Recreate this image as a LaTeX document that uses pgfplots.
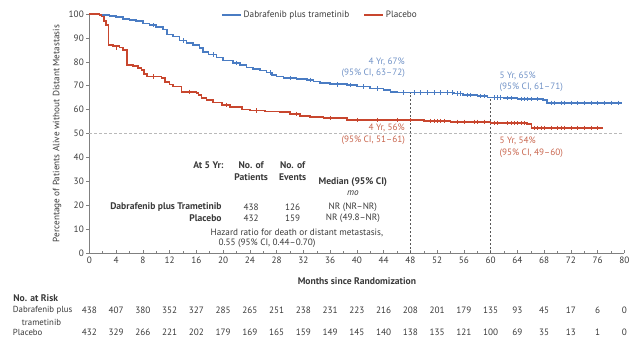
\documentclass[border=0pt]{standalone}
\usepackage{fontspec}
\setmainfont{PT Sans}
\usepackage{pgfplots}
\pgfplotsset{compat=1.18}
\definecolor{bl}{HTML}{4A7CC3}
\definecolor{rd}{HTML}{C8462E}
\definecolor{blt}{HTML}{6F91C6}
\definecolor{rdt}{HTML}{C8644C}
\definecolor{txt}{HTML}{3A3A3A}
\definecolor{axc}{HTML}{808080}
\newcommand{\fs}{\fontsize{9.2}{11}\selectfont}
\newcommand{\fb}{\fontsize{9.6}{11}\selectfont\bfseries}
\begin{document}
\begin{tikzpicture}
\begin{axis}[
  scale only axis, width=535pt, height=239pt,
  xmin=0, xmax=80, ymin=0, ymax=100,
  axis lines=left, axis line style={-, axc, line width=0.6pt},
  xtick={0,4,...,80}, minor xtick={2,6,...,78},
  ytick={0,10,...,100},
  tick align=inside,
  major tick length=3pt, minor tick length=2pt,
  tick style={axc, line width=0.5pt},
  y tick style={xshift=-3pt},
  yticklabel style={xshift=-2pt},
  ticklabel style={font=\fs, text=txt},
  /pgf/number format/assume math mode=true,
  clip=false,
  legend style={at={(0.431,0.996)}, anchor=center, draw=none, fill=none,
    font=\fs, text=txt, legend columns=2,
    /tikz/every even column/.append style={column sep=12pt}},
  legend image code/.code={\draw[#1] (0pt,0pt) -- (19pt,0pt);},
]
% reference lines
\addplot[forget plot, gray!55, dash pattern=on 3pt off 2pt, line width=0.5pt] coordinates {(0,50) (80,50)};
\addplot[forget plot, txt!85, dash pattern=on 2pt off 2pt, line width=0.5pt] coordinates {(48,0) (48,67.1)};
\addplot[forget plot, txt!85, dash pattern=on 2pt off 2pt, line width=0.5pt] coordinates {(60,0) (60,65.1)};

\addplot[const plot, bl, line width=1.6pt] coordinates {
(0,100) (1.5,99.6) (3,99.2) (4,98.7) (5,97.9) (6,97.5) (7,97.0) (8,96.0) (9,95.3) (10,94.6)
(11,93.6) (11.6,91.5) (12.5,90.6) (13.5,89) (14.5,87.8) (15.5,87) (16.5,85.8) (17,84) (17.8,83)
(19,81.8) (20,80.6) (21.5,79.6) (22.5,78.6) (23.5,77.6) (24.5,76.9) (25.5,76.3) (26.5,75.6)
(27.3,74.5) (28,73.8) (29,73.2) (31,72.9) (32.5,72.5) (33.5,71.8) (34.5,71.1) (36,70.6)
(38.5,70.3) (40,69.6) (42,68.9) (44,68.2) (45,67.5) (46,67.1) (54.5,66.8) (55.9,66.1)
(58,65.6) (59.5,65.1) (62,64.8) (64,64.4) (67.8,64.0) (68.4,62.9) (79.6,62.9)};
\addlegendentry{Dabrafenib plus trametinib}

\addplot[const plot, rd, line width=1.6pt] coordinates {
(0,100) (1.5,99.5) (1.85,98.9) (2.2,97) (2.5,95.4) (2.85,87) (3.5,86.5) (4.5,86) (5.0,85)
(5.6,78.7) (6.5,78.3) (7.3,77.5) (7.8,76.5) (8.2,75) (8.6,73.8) (10.8,73.3) (11.3,71.5)
(12,70.5) (12.5,69.6) (13.8,67.5) (16,67) (16.3,66) (16.8,64.8) (17.5,64) (18.5,63)
(19.8,62) (21,61) (22.8,60) (24,59.7) (26.3,59.3) (28.5,59.1) (30,58.3) (31.5,57.3)
(33,57) (35,56.4) (38.5,55.6) (49.4,55.6) (50,55.2) (54,54.9) (60,54.5) (62,54.3)
(65.4,54) (66.1,52.4) (76.8,52.4)};
\addlegendentry{Placebo}

% censoring marks
\addplot[forget plot, only marks, mark=|, mark size=2.2pt, bl, mark options={line width=0.5pt}] coordinates {
(9.5,95.3) (14,89) (18.5,83) (22,79.6) (27,75.6) (30,73.2) (33,72.5) (37,70.6) (39,70.3)
(41,69.6) (43,68.9) (47,67.1) (48.5,67.1) (49.5,67.1) (50.5,67.1) (51.5,67.1) (52.5,67.1)
(53.5,67.1) (54.2,67.1) (55,66.8) (55.5,66.8) (56.5,66.1) (57,66.1) (58.5,65.6) (59,65.6)
(60.5,65.1) (61,65.1) (61.5,65.1) (62.5,64.8) (63,64.8) (64.5,64.4) (65,64.4) (65.5,64.4)
(66,64.4) (67,64.4) (69,62.9) (69.5,62.9) (70.5,62.9) (71,62.9) (72,62.9) (73,62.9)
(74,62.9) (75,62.9) (76,62.9) (77,62.9) (78,62.9) (79,62.9)};
\addplot[forget plot, only marks, mark=|, mark size=2.2pt, rd, mark options={line width=0.5pt}] coordinates {
(4,86) (9.5,73.8) (15,67.5) (20.5,62) (25,59.7) (31,58.3) (36,56.4) (40,55.6) (43,55.6)
(46,55.6) (48,55.6) (51,55.2) (51.5,55.2) (52,55.2) (52.5,55.2) (53,55.2) (55,54.9)
(56,54.9) (57.5,54.9) (58,54.9) (59,54.9) (60.5,54.5) (61,54.5) (62.5,54.3) (63,54.3)
(63.5,54.3) (64,54.3) (64.5,54.3) (65,54.3) (66.5,52.4) (67,52.4) (67.5,52.4) (68,52.4)
(69,52.4) (70,52.4) (70.5,52.4) (71,52.4) (72,52.4) (73,52.4) (74,52.4) (75,52.4) (76,52.4)};

% at-risk numbers
\addplot[forget plot, draw=none, mark=none, nodes near coords, point meta=explicit symbolic,
  nodes near coords style={anchor=center, font=\fs, text=txt}] coordinates {
(0,-23.85)[438] (4,-23.85)[407] (8,-23.85)[380] (12,-23.85)[352] (16,-23.85)[327]
(20,-23.85)[285] (24,-23.85)[265] (28,-23.85)[251] (32,-23.85)[238] (36,-23.85)[231]
(40,-23.85)[223] (44,-23.85)[216] (48,-23.85)[208] (52,-23.85)[201] (56,-23.85)[179]
(60,-23.85)[135] (64,-23.85)[93] (68,-23.85)[45] (72,-23.85)[17] (76,-23.85)[6] (80,-23.85)[0]};
\addplot[forget plot, draw=none, mark=none, nodes near coords, point meta=explicit symbolic,
  nodes near coords style={anchor=center, font=\fs, text=txt}] coordinates {
(0,-33.1)[432] (4,-33.1)[329] (8,-33.1)[266] (12,-33.1)[221] (16,-33.1)[202]
(20,-33.1)[179] (24,-33.1)[169] (28,-33.1)[165] (32,-33.1)[159] (36,-33.1)[149]
(40,-33.1)[145] (44,-33.1)[140] (48,-33.1)[138] (52,-33.1)[135] (56,-33.1)[121]
(60,-33.1)[100] (64,-33.1)[69] (68,-33.1)[35] (72,-33.1)[13] (76,-33.1)[1] (80,-33.1)[0]};

% labels
\node[rotate=90, font=\fs, text=txt] at (axis cs:-4.83,50) {Percentage of Patients Alive without Distant Metastasis};
\node[font=\fb, text=txt] at (axis cs:40,-11.7) {Months since Randomization};
\node[font=\fb, text=txt, anchor=west] at (axis cs:-11.87,-18.8) {No. at Risk};
\node[font=\fontsize{8.8}{10}\selectfont, text=txt, anchor=west] at (axis cs:-11.95,-23.85) {Dabrafenib plus};
\node[font=\fontsize{8.8}{10}\selectfont, text=txt, anchor=west] at (axis cs:-10.6,-28.9) {trametinib};
\node[font=\fontsize{8.8}{10}\selectfont, text=txt, anchor=west] at (axis cs:-11.95,-33.1) {Placebo};

% annotations
\node[font=\fs, text=blt, anchor=east] at (axis cs:47.7,79.9) {4 Yr, 67\%};
\node[font=\fs, text=blt, anchor=east] at (axis cs:47.7,75.3) {(95\% CI, 63–72)};
\node[font=\fs, text=blt, anchor=west] at (axis cs:60.8,74.1) {5 Yr, 65\%};
\node[font=\fs, text=blt, anchor=west] at (axis cs:60.8,69.5) {(95\% CI, 61–71)};
\node[font=\fs, text=rdt, anchor=east] at (axis cs:47.7,52.3) {4 Yr, 56\%};
\node[font=\fs, text=rdt, anchor=east] at (axis cs:47.7,47.3) {(95\% CI, 51–61)};
\node[font=\fs, text=rdt, anchor=west] at (axis cs:60.8,46.9) {5 Yr, 54\%};
\node[font=\fs, text=rdt, anchor=west] at (axis cs:60.8,41.8) {(95\% CI, 49–60)};

% inset table
\node[font=\fb, text=txt, anchor=east] at (axis cs:20.6,36.8) {At 5 Yr:};
\node[font=\fb, text=txt] at (axis cs:24.2,36.8) {No. of};
\node[font=\fb, text=txt] at (axis cs:24.2,31.8) {Patients};
\node[font=\fb, text=txt] at (axis cs:30.4,36.8) {No. of};
\node[font=\fb, text=txt] at (axis cs:30.4,31.8) {Events};
\node[font=\fb, text=txt] at (axis cs:39.4,29.7) {Median (95\% CI)};
\node[font=\fs\itshape, text=txt] at (axis cs:39.4,25.1) {mo};
\node[font=\fb, text=txt, anchor=east] at (axis cs:20.3,19.2) {Dabrafenib plus Trametinib};
\node[font=\fb, text=txt, anchor=east] at (axis cs:20.3,14.6) {Placebo};
\node[font=\fs, text=txt] at (axis cs:24.2,19.2) {438};
\node[font=\fs, text=txt] at (axis cs:24.2,14.6) {432};
\node[font=\fs, text=txt] at (axis cs:30.4,19.2) {126};
\node[font=\fs, text=txt] at (axis cs:30.4,14.6) {159};
\node[font=\fs, text=txt] at (axis cs:39.4,19.2) {NR (NR–NR)};
\node[font=\fs, text=txt] at (axis cs:39.4,14.6) {NR (49.8–NR)};
\node[font=\fs, text=txt, anchor=west] at (axis cs:17.6,8.4) {Hazard ratio for death or distant metastasis,};
\node[font=\fs, text=txt, anchor=west] at (axis cs:18.8,4.2) {0.55 (95\% CI, 0.44–0.70)};

\coordinate (BL) at (axis cs:-13.35,-38.91);
\coordinate (TR) at (axis cs:82.32,105.86);
\end{axis}
\pgfresetboundingbox
\path[use as bounding box] (BL) rectangle (TR);
\end{tikzpicture}
\end{document}
